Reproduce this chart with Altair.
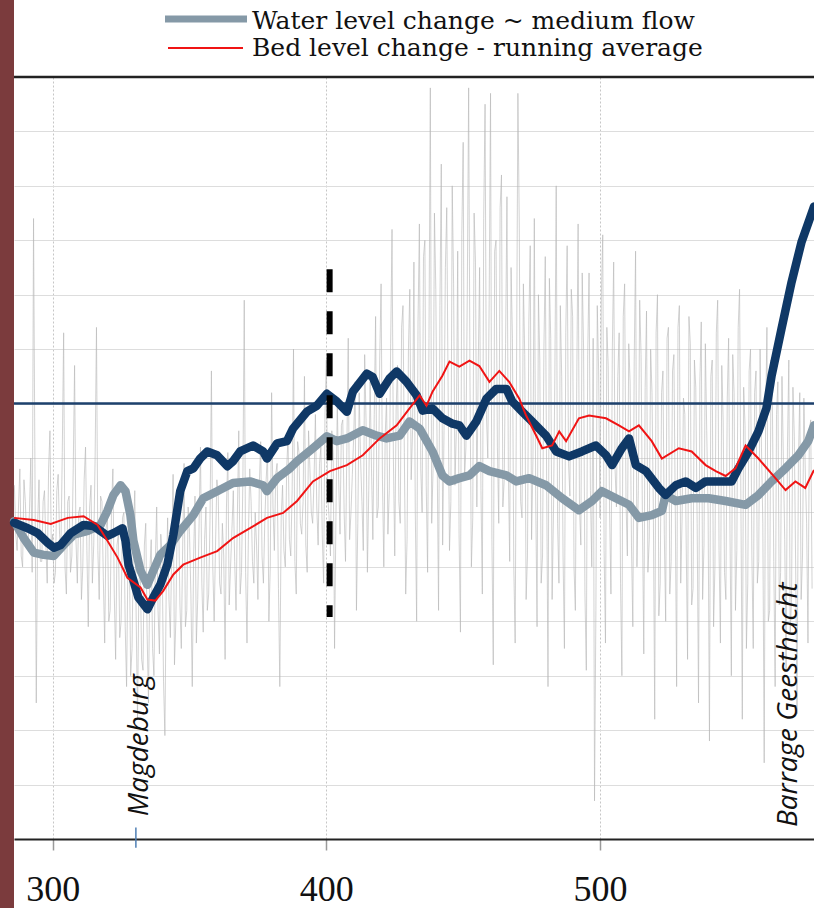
import altair as alt
import pandas as pd

# Elbe river kilometre (x) and level change in metres (y)

# water level change, low flow (dark blue)
low_km = [285.9, 290.9, 294.5, 298.2, 300.4, 302.9, 306.6, 311.3, 314.9, 317.5,
          320.0, 322.2, 325.5, 326.6, 327.7, 329.5, 331.3, 334.6, 336.8, 339.3,
          341.9, 344.1, 346.6, 349.2, 351.4, 353.9, 356.5, 360.1, 363.8, 365.9,
          368.5, 373.2, 376.9, 378.3, 382.0, 385.6, 387.8, 392.9, 396.5, 400.2,
          403.8, 407.5, 409.7, 414.8, 416.9, 419.5, 423.1, 425.7, 429.3, 433.0,
          435.2, 438.8, 442.4, 446.1, 448.6, 451.2, 454.8, 458.5, 462.1, 465.8,
          467.9, 471.6, 475.2, 480.3, 484.0, 488.7, 493.4, 498.5, 502.2, 504.4,
          508.0, 510.6, 513.1, 516.8, 521.5, 524.0, 527.7, 531.3, 535.0, 538.6,
          543.4, 548.1, 550.6, 554.3, 557.9, 560.8, 562.7, 566.3, 570.0, 573.6,
          578.2]
low_dz = [-0.219, -0.229, -0.238, -0.256, -0.265, -0.260, -0.238, -0.223, -0.225, -0.234,
          -0.243, -0.238, -0.229, -0.252, -0.296, -0.325, -0.356, -0.378, -0.356, -0.333,
          -0.296, -0.241, -0.161, -0.124, -0.119, -0.101, -0.088, -0.095, -0.115, -0.106,
          -0.088, -0.077, -0.088, -0.101, -0.073, -0.069, -0.046, -0.015, -0.004, 0.018,
          0.004, -0.015, 0.022, 0.055, 0.049, 0.018, 0.046, 0.059, 0.040, 0.015,
          -0.013, -0.009, -0.027, -0.037, -0.040, -0.059, -0.033, 0.009, 0.027, 0.027,
          0.004, -0.015, -0.033, -0.059, -0.088, -0.097, -0.088, -0.077, -0.095, -0.113,
          -0.082, -0.064, -0.113, -0.124, -0.155, -0.168, -0.150, -0.143, -0.155, -0.143,
          -0.143, -0.143, -0.119, -0.088, -0.051, -0.009, 0.051, 0.137, 0.223, 0.296,
          0.362]

# water level change, medium flow (grey-blue)
medium_km = [285.9, 289.4, 293.1, 296.7, 300.4, 304.0, 307.7, 312.8, 317.5, 320.0,
             322.2, 324.8, 326.6, 328.4, 329.5, 332.1, 334.6, 336.8, 339.3, 343.0,
             346.6, 351.4, 355.0, 360.1, 365.9, 372.1, 376.9, 378.3, 382.0, 386.7,
             389.3, 395.1, 400.2, 403.8, 407.5, 413.3, 418.4, 422.0, 426.8, 430.4,
             434.1, 438.8, 442.4, 445.0, 448.6, 452.3, 455.9, 459.6, 465.8, 469.4,
             474.1, 480.3, 486.2, 492.3, 497.1, 500.7, 505.8, 510.6, 514.2, 518.9,
             522.6, 524.0, 527.7, 533.5, 539.7, 545.9, 553.2, 557.9, 562.7, 567.8,
             572.5, 576.1, 578.2]
medium_dz = [-0.216, -0.247, -0.274, -0.278, -0.280, -0.260, -0.241, -0.234, -0.223, -0.197,
             -0.168, -0.150, -0.161, -0.205, -0.252, -0.307, -0.333, -0.307, -0.278, -0.260,
             -0.234, -0.205, -0.174, -0.161, -0.146, -0.143, -0.150, -0.161, -0.137, -0.119,
             -0.106, -0.082, -0.060, -0.069, -0.064, -0.049, -0.059, -0.064, -0.059, -0.033,
             -0.046, -0.088, -0.132, -0.143, -0.137, -0.132, -0.115, -0.124, -0.132, -0.143,
             -0.137, -0.150, -0.174, -0.196, -0.179, -0.161, -0.174, -0.186, -0.210, -0.205,
             -0.197, -0.168, -0.179, -0.174, -0.174, -0.179, -0.186, -0.168, -0.143, -0.119,
             -0.095, -0.069, -0.040]

# bed level change, running average (red)
bed_avg_km = [285.9, 293.1, 299.3, 305.5, 311.3, 316.4, 320.0, 323.7, 327.3, 332.1,
              334.6, 337.5, 340.4, 344.1, 347.7, 353.9, 360.1, 365.9, 372.1, 378.3,
              384.2, 389.3, 395.1, 401.3, 407.5, 413.3, 419.5, 425.7, 430.4, 434.1,
              436.6, 438.8, 442.4, 445.0, 448.6, 452.3, 455.9, 459.6, 463.2, 466.8,
              470.5, 473.0, 476.7, 478.9, 482.5, 485.1, 487.6, 492.3, 496.0, 502.2,
              506.9, 510.6, 514.2, 518.9, 522.6, 528.8, 533.5, 538.6, 542.3, 545.9,
              549.5, 553.2, 557.9, 564.1, 567.8, 571.4, 575.0, 578.2]
bed_avg_dz = [-0.210, -0.214, -0.221, -0.210, -0.207, -0.223, -0.252, -0.283, -0.320, -0.338,
              -0.360, -0.362, -0.344, -0.314, -0.296, -0.283, -0.271, -0.247, -0.229, -0.210,
              -0.201, -0.179, -0.143, -0.124, -0.113, -0.095, -0.064, -0.040, -0.009, 0.015,
              -0.004, 0.022, 0.051, 0.077, 0.068, 0.079, 0.069, 0.040, 0.060, 0.040,
              0.009, -0.022, -0.059, -0.082, -0.077, -0.051, -0.069, -0.027, -0.022, -0.027,
              -0.040, -0.051, -0.040, -0.069, -0.101, -0.082, -0.088, -0.113, -0.124, -0.133,
              -0.119, -0.077, -0.101, -0.137, -0.159, -0.143, -0.155, -0.122]

# bed level change at single cross-sections: one value per whole km (286 ... 577)
bed_raw_first_km = 286
bed_raw_dz = [
    -0.15, -0.27, -0.12, -0.30, -0.18, -0.26, -0.10, 0.34, -0.55, -0.14,
    -0.29, -0.16, -0.33, -0.05, -0.24, -0.31, -0.13, -0.27, 0.13, -0.35,
    -0.17, -0.28, 0.07, -0.33, -0.19, -0.30, -0.08, -0.41, -0.15, -0.26,
    0.14, -0.36, -0.18, -0.44, -0.21, -0.38, -0.12, -0.47, -0.24, -0.40,
    -0.20, -0.52, -0.27, -0.45, -0.16, -0.58, -0.30, -0.49, -0.22, -0.55,
    -0.25, -0.50, -0.19, -0.46, -0.28, -0.61, -0.21, -0.43, -0.13, -0.40,
    -0.20, -0.45, -0.11, -0.38, -0.24, -0.52, -0.17, -0.36, -0.08, -0.42,
    -0.19, -0.35, 0.06, -0.40, -0.14, -0.33, -0.22, -0.47, -0.09, -0.30,
    -0.16, -0.38, -0.05, -0.31, 0.19, -0.44, -0.12, -0.29, -0.20, -0.36,
    -0.07, -0.33, -0.14, -0.40, 0.02, -0.27, -0.11, -0.52, -0.15, -0.30,
    -0.06, -0.28, 0.10, -0.35, -0.09, -0.24, 0.05, -0.31, -0.12, -0.22,
    -0.02, -0.26, -0.08, -0.33, 0.08, -0.21, -0.05, -0.45, 0.00, -0.24,
    -0.03, -0.29, 0.12, -0.20, -0.06, -0.38, 0.02, -0.18, 0.09, -0.31,
    0.04, -0.25, 0.16, -0.19, 0.22, -0.30, 0.01, -0.16, 0.32, -0.28,
    0.07, -0.22, 0.18, -0.35, 0.10, -0.14, 0.26, -0.40, 0.33, -0.20,
    0.30, -0.31, 0.58, -0.12, 0.21, -0.38, 0.44, -0.05, 0.36, -0.27,
    0.40, -0.15, 0.28, -0.42, 0.48, -0.08, 0.58, -0.30, 0.35, -0.19,
    0.25, -0.35, 0.55, -0.10, 0.57, -0.48, 0.30, -0.22, 0.42, -0.14,
    0.38, -0.29, 0.12, -0.44, 0.57, -0.18, 0.22, -0.36, 0.15, -0.25,
    0.34, -0.41, 0.08, -0.28, 0.27, -0.52, 0.12, -0.20, 0.40, -0.33,
    0.05, -0.45, 0.29, -0.17, 0.16, -0.38, 0.33, -0.26, 0.10, -0.49,
    0.24, -0.30, -0.73, 0.18, -0.21, 0.31, -0.44, 0.07, -0.35, 0.26,
    -0.19, 0.13, -0.50, 0.22, -0.28, 0.04, -0.41, 0.28, -0.16, 0.09,
    -0.46, 0.17, -0.25, 0.02, -0.58, 0.20, -0.33, 0.06, -0.40, 0.14,
    -0.29, 0.09, -0.52, 0.18, -0.21, -0.02, -0.47, 0.11, -0.34, 0.03,
    -0.55, 0.15, -0.26, -0.05, -0.62, 0.08, -0.30, 0.19, -0.44, -0.03,
    -0.36, 0.12, -0.50, 0.02, -0.27, 0.21, -0.58, -0.04, -0.33, 0.10,
    -0.45, 0.06, -0.29, -0.08, -0.66, 0.14, -0.38, 0.00, -0.52, 0.04,
    -0.31, -0.10, -0.49, 0.08, -0.36, -0.06, -0.57, 0.02, -0.28, -0.12, -0.44, -0.03,
]
# ... and one value per half km (286.5 ... 577.5)
bed_raw_half_first_km = 286.5
bed_raw_half_dz = [
    -0.24, -0.19, -0.28, -0.14, -0.25, -0.20, -0.31, -0.11, -0.22, -0.29,
    -0.18, -0.26, -0.12, -0.27, -0.33, -0.16, -0.24, -0.09, -0.30, -0.18,
    -0.31, -0.12, -0.25, -0.20, -0.36, -0.14, -0.27, -0.19, -0.33, -0.10,
    -0.27, -0.17, -0.32, -0.23, -0.40, -0.19, -0.35, -0.26, -0.43, -0.21,
    -0.41, -0.28, -0.50, -0.24, -0.39, -0.33, -0.47, -0.26, -0.42, -0.31,
    -0.45, -0.29, -0.38, -0.24, -0.51, -0.33, -0.36, -0.27, -0.48, -0.22,
    -0.37, -0.26, -0.41, -0.19, -0.35, -0.28, -0.44, -0.22, -0.33, -0.25,
    -0.38, -0.21, -0.30, -0.26, -0.17, -0.35, -0.28, -0.19, -0.37, -0.23,
    -0.29, -0.20, -0.35, -0.14, -0.31, -0.25, -0.18, -0.33, -0.26, -0.15,
    -0.28, -0.22, -0.09, -0.30, -0.19, -0.13, -0.34, -0.21, -0.27, -0.12,
    -0.25, -0.16, -0.29, -0.07, -0.22, -0.18, -0.26, -0.05, -0.20, -0.14,
    -0.19, -0.11, -0.24, -0.02, -0.17, -0.28, -0.09, -0.21, -0.14, -0.04,
    -0.20, -0.08, -0.25, -0.13, 0.04, -0.22, -0.10, -0.27, -0.03, -0.16,
    -0.12, -0.02, -0.21, 0.08, -0.14, -0.06, -0.24, 0.11, -0.10, -0.01,
    -0.18, 0.14, -0.09, -0.25, 0.21, -0.05, -0.20, 0.15, -0.12, 0.27,
    -0.15, 0.12, -0.22, 0.35, -0.10, 0.18, -0.26, 0.25, 0.02, -0.18,
    0.22, -0.05, -0.24, 0.31, -0.14, 0.20, 0.03, -0.21, 0.26, 0.07,
    -0.16, 0.34, -0.02, 0.19, -0.25, 0.28, -0.08, 0.36, -0.19, 0.11,
    -0.12, 0.25, -0.30, 0.06, 0.33, -0.21, 0.09, -0.28, 0.29, -0.10,
    -0.17, 0.20, -0.33, 0.10, -0.14, 0.23, -0.36, 0.05, -0.22, 0.18,
    -0.28, 0.13, -0.11, 0.21, -0.30, 0.04, -0.19, 0.24, -0.35, 0.09,
    -0.16, 0.12, -0.38, 0.06, 0.20, -0.27, 0.14, -0.20, 0.10, -0.12,
    0.05, -0.33, 0.16, -0.18, 0.11, -0.26, 0.08, -0.30, 0.19, -0.21,
    0.03, -0.31, 0.10, -0.20, 0.13, -0.39, 0.02, -0.24, 0.12, -0.35,
    0.06, -0.19, 0.14, -0.33, 0.01, -0.26, 0.16, -0.37, 0.08, -0.22,
    0.04, -0.36, 0.11, -0.20, 0.05, -0.41, 0.13, -0.27, 0.07, -0.31,
    0.01, -0.24, 0.09, -0.38, 0.14, -0.19, 0.03, -0.45, 0.06, -0.28,
    0.02, -0.33, 0.10, -0.22, -0.04, -0.40, 0.08, -0.29, -0.02, -0.37,
    0.05, -0.25, -0.08, -0.42, 0.03, -0.30, -0.11, -0.36, 0.01, -0.22, -0.05, -0.34,
]

tick_km = [300, 400, 500]
grid_dz = [-0.8, -0.7, -0.6, -0.5, -0.4, -0.3, -0.2, -0.1, 0.0, 0.1, 0.2, 0.3, 0.4, 0.5, 0.6]

station_names = ["Magdeburg", "Barrage Geesthacht"]
station_label_km = [334.8, 572.0]
station_label_dz = [-0.758, -0.778]
magdeburg_km = 330.4

section_km = 401.2
section_top_dz = 0.247
section_bottom_dz = -0.392

legend_labels = ["Water level change ~ medium flow", "Bed level change - running average"]

C_LOW = "#0f3866"
C_MEDIUM = "#8599a7"
C_BED = "#f01414"
C_RAW = "#b8b8b8"
C_ZERO = "#1d416d"

X_DOMAIN = [285.86, 578.2]
Y_DOMAIN = [-0.8, 0.6]

x_axis = alt.Axis(
    values=tick_km, title=None, format="d",
    labelFont="Liberation Serif", labelFontSize=36, labelColor="#111",
    labelBaseline="alphabetic", labelPadding=50,
    tickSize=11, tickColor="#9a9a9a", tickWidth=1.5,
    domainColor="#222", domainWidth=2,
    grid=True, gridColor="#c6c6c6", gridDash=[2, 2], gridWidth=1,
)
y_axis = alt.Axis(
    values=grid_dz, title=None, labels=False, ticks=False, domain=False,
    grid=True, gridColor="#dddddd", gridWidth=1.2,
)


def xq(field):
    return alt.X(field, type="quantitative",
                 scale=alt.Scale(domain=X_DOMAIN, nice=False, zero=False), axis=x_axis)


def yq(field):
    return alt.Y(field, type="quantitative",
                 scale=alt.Scale(domain=Y_DOMAIN, nice=False, zero=False), axis=y_axis)


raw_df = pd.concat([
    pd.DataFrame({"km": [bed_raw_first_km + i for i in range(len(bed_raw_dz))],
                  "dz": bed_raw_dz}),
    pd.DataFrame({"km": [bed_raw_half_first_km + i for i in range(len(bed_raw_half_dz))],
                  "dz": bed_raw_half_dz}),
]).sort_values("km").reset_index(drop=True)
low_df = pd.DataFrame({"km": low_km, "dz": low_dz})
medium_df = pd.DataFrame({"km": medium_km, "dz": medium_dz})
bed_df = pd.DataFrame({"km": bed_avg_km, "dz": bed_avg_dz})

# dark strip along the left edge of the page
border = alt.Chart(pd.DataFrame({"k": [0]})).mark_rect(color="#7b3b3d").encode(
    x=alt.value(-14), x2=alt.value(0), y=alt.value(-77), y2=alt.value(831)
)

raw = alt.Chart(raw_df).mark_line(color=C_RAW, strokeWidth=0.7, opacity=0.9).encode(
    x=xq("km"), y=yq("dz")
)

zero = alt.Chart(pd.DataFrame({"dz": [0.0]})).mark_rule(color=C_ZERO, strokeWidth=2.5).encode(
    y=yq("dz")
)

frame_top = alt.Chart(pd.DataFrame({"dz": [Y_DOMAIN[1]]})).mark_rule(
    color="#222", strokeWidth=2.5
).encode(y=yq("dz"))

medium = alt.Chart(medium_df).mark_line(
    color=C_MEDIUM, strokeWidth=8.5, strokeJoin="round", strokeCap="round"
).encode(x=xq("km"), y=yq("dz"))

low = alt.Chart(low_df).mark_line(
    color=C_LOW, strokeWidth=8.5, strokeJoin="round", strokeCap="round"
).encode(x=xq("km"), y=yq("dz"))

bed = alt.Chart(bed_df).mark_line(color=C_BED, strokeWidth=2).encode(
    x=xq("km"), y=yq("dz")
)

section = alt.Chart(pd.DataFrame({
    "km": [section_km], "top": [section_top_dz], "bottom": [section_bottom_dz]
})).mark_rule(color="black", strokeWidth=6, strokeDash=[23, 19]).encode(
    x=xq("km"), y=yq("top"), y2="bottom:Q"
)

magdeburg_tick = alt.Chart(pd.DataFrame({
    "km": [magdeburg_km], "top": [-0.779], "bottom": [-0.816]
})).mark_rule(color="#4f7fb5", strokeWidth=1.5).encode(
    x=xq("km"), y=yq("top"), y2="bottom:Q"
)

stations = alt.Chart(pd.DataFrame({
    "km": station_label_km, "dz": station_label_dz, "name": station_names
})).mark_text(
    angle=270, align="left", baseline="alphabetic",
    font="Open Sans", fontStyle="italic", fontSize=28, color="#111"
).encode(x=xq("km"), y=yq("dz"), text="name:N")

# legend drawn above the plot
leg = pd.DataFrame({"k": [0]})
leg_medium_sym = alt.Chart(leg).mark_rule(color=C_MEDIUM, strokeWidth=7).encode(
    x=alt.value(151), x2=alt.value(233), y=alt.value(-58)
)
leg_bed_sym = alt.Chart(leg).mark_rule(color=C_BED, strokeWidth=2).encode(
    x=alt.value(154), x2=alt.value(229), y=alt.value(-29)
)
leg_medium_txt = alt.Chart(leg).mark_text(
    align="left", baseline="alphabetic", font="DejaVu Serif", fontSize=25,
    color="#111", text=legend_labels[0]
).encode(x=alt.value(238), y=alt.value(-48))
leg_bed_txt = alt.Chart(leg).mark_text(
    align="left", baseline="alphabetic", font="DejaVu Serif", fontSize=25,
    color="#111", text=legend_labels[1]
).encode(x=alt.value(238), y=alt.value(-21))

chart = alt.layer(
    border, raw, zero, medium, low, bed, section, frame_top, magdeburg_tick, stations,
    leg_medium_sym, leg_bed_sym, leg_medium_txt, leg_bed_txt,
).properties(
    width=800, height=762,
    padding={"left": 14, "top": 77, "right": 0, "bottom": 69},
    autosize=alt.AutoSizeParams(type="none"),
    background="white",
).configure_view(stroke=None)

chart.save("out.html", embed_options={"renderer": "svg", "actions": False})
